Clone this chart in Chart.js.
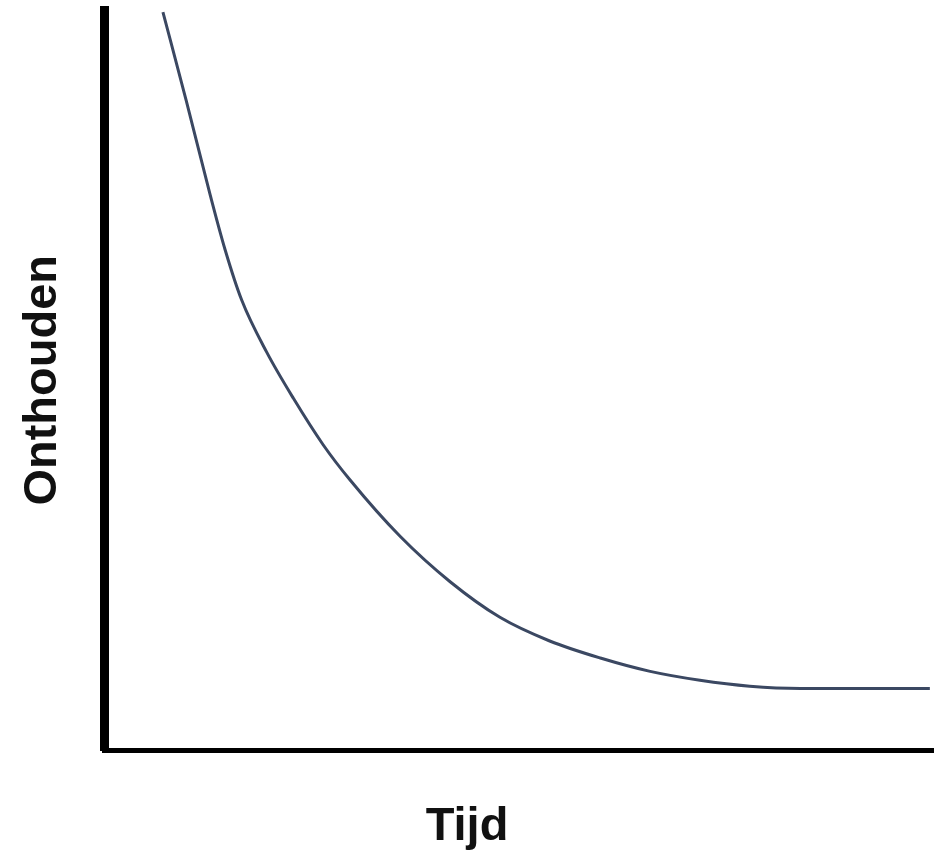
<!DOCTYPE html>
<html>
<head>
<meta charset="utf-8">
<script src="https://cdn.jsdelivr.net/npm/chart.js@4/dist/chart.umd.min.js"></script>
<style>
  body { margin: 0; background: #fff; }
  #wrap { width: 934px; height: 853px; }
</style>
</head>
<body>
<div id="wrap"><canvas id="curve" width="934" height="853"></canvas></div>
<script>
// Forgetting curve (time 0-100, retention 0-100)
const timeValues = [7.1, 9.9, 12.8, 14.6, 16.6, 19.6, 22.8, 26.4, 29.6, 35.7, 41.7, 47.7, 53.7, 59.8, 65.8, 71.8, 77.8, 83.9, 99.5];
const retainedValues = [99.7, 87.8, 75.0, 67.6, 60.8, 53.8, 47.6, 41.3, 36.6, 28.9, 22.8, 18.0, 14.8, 12.5, 10.7, 9.5, 8.7, 8.4, 8.4];
const xLabel = 'Tijd';
const yLabel = 'Onthouden';

const points = timeValues.map((t, i) => ({ x: t, y: retainedValues[i] }));

const labelFont = { family: '"Liberation Sans", Arial, sans-serif', size: 47, weight: 'bold' };

const ctx = document.getElementById('curve').getContext('2d');
new Chart(ctx, {
    type: 'line',
    data: {
        datasets: [{
            data: points,
            borderColor: '#3b4862',
            borderWidth: 3,
            pointRadius: 0,
            fill: false,
            cubicInterpolationMode: 'monotone'
        }]
    },
    options: {
        responsive: false,
        animation: false,
        layout: { padding: { top: 10, right: 0, left: 0, bottom: 0 } },
        plugins: {
            legend: { display: false },
            tooltip: { enabled: false },
            title: {
                display: true,
                text: xLabel,
                position: 'bottom',
                color: '#111',
                font: labelFont,
                padding: { top: 48, bottom: -2 }
            }
        },
        scales: {
            x: {
                type: 'linear',
                min: 0,
                max: 100,
                grid: { display: false, drawTicks: false },
                ticks: { display: false },
                border: { display: true, color: '#000', width: 5 }
            },
            y: {
                type: 'linear',
                min: 0,
                max: 100,
                grid: { display: false, drawTicks: false },
                ticks: { display: false },
                border: { display: true, color: '#000', width: 9 },
                title: {
                    display: true,
                    text: yLabel,
                    color: '#111',
                    font: labelFont,
                    padding: { top: 15, bottom: 32.6 }
                }
            }
        }
    }
});
</script>
</body>
</html>
